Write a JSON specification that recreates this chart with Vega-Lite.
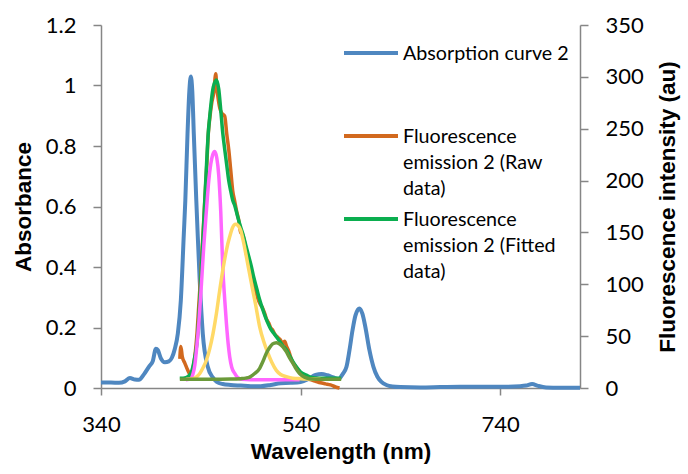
{
  "$schema": "https://vega.github.io/schema/vega-lite/v6.json",
  "width": 479,
  "height": 363,
  "autosize": {"type": "none"},
  "padding": {"left": 101, "top": 25, "right": 108, "bottom": 86},
  "background": "white",
  "config": {
    "view": {"stroke": null},
    "font": "Lato",
    "axis": {
      "domainColor": "#868686",
      "tickColor": "#868686",
      "domainWidth": 1.5,
      "tickWidth": 1.5,
      "grid": false,
      "labelFont": "Lato",
      "labelFontSize": 22,
      "labelColor": "black",
      "titleFont": "Liberation Sans",
      "titleFontSize": 22.5,
      "titleFontWeight": "bold",
      "titleColor": "black"
    }
  },
  "datasets": {
    "abs": [
      {"wavelength": 340, "absorbance": 0.018, "series": "Absorption curve 2"},
      {"wavelength": 350, "absorbance": 0.018, "series": "Absorption curve 2"},
      {"wavelength": 358, "absorbance": 0.017, "series": "Absorption curve 2"},
      {"wavelength": 364, "absorbance": 0.022, "series": "Absorption curve 2"},
      {"wavelength": 369, "absorbance": 0.033, "series": "Absorption curve 2"},
      {"wavelength": 374, "absorbance": 0.028, "series": "Absorption curve 2"},
      {"wavelength": 378, "absorbance": 0.027, "series": "Absorption curve 2"},
      {"wavelength": 383, "absorbance": 0.045, "series": "Absorption curve 2"},
      {"wavelength": 388, "absorbance": 0.07, "series": "Absorption curve 2"},
      {"wavelength": 392, "absorbance": 0.09, "series": "Absorption curve 2"},
      {"wavelength": 395, "absorbance": 0.13, "series": "Absorption curve 2"},
      {"wavelength": 397, "absorbance": 0.125, "series": "Absorption curve 2"},
      {"wavelength": 400, "absorbance": 0.098, "series": "Absorption curve 2"},
      {"wavelength": 404, "absorbance": 0.085, "series": "Absorption curve 2"},
      {"wavelength": 408, "absorbance": 0.088, "series": "Absorption curve 2"},
      {"wavelength": 411, "absorbance": 0.1, "series": "Absorption curve 2"},
      {"wavelength": 414, "absorbance": 0.13, "series": "Absorption curve 2"},
      {"wavelength": 417, "absorbance": 0.18, "series": "Absorption curve 2"},
      {"wavelength": 420, "absorbance": 0.29, "series": "Absorption curve 2"},
      {"wavelength": 423, "absorbance": 0.51, "series": "Absorption curve 2"},
      {"wavelength": 424.5, "absorbance": 0.62, "series": "Absorption curve 2"},
      {"wavelength": 426.7, "absorbance": 0.84, "series": "Absorption curve 2"},
      {"wavelength": 428.5, "absorbance": 0.98, "series": "Absorption curve 2"},
      {"wavelength": 430, "absorbance": 1.03, "series": "Absorption curve 2"},
      {"wavelength": 431.5, "absorbance": 0.98, "series": "Absorption curve 2"},
      {"wavelength": 433, "absorbance": 0.84, "series": "Absorption curve 2"},
      {"wavelength": 435.5, "absorbance": 0.62, "series": "Absorption curve 2"},
      {"wavelength": 437, "absorbance": 0.5, "series": "Absorption curve 2"},
      {"wavelength": 439, "absorbance": 0.35, "series": "Absorption curve 2"},
      {"wavelength": 442, "absorbance": 0.18, "series": "Absorption curve 2"},
      {"wavelength": 447, "absorbance": 0.07, "series": "Absorption curve 2"},
      {"wavelength": 452, "absorbance": 0.035, "series": "Absorption curve 2"},
      {"wavelength": 456, "absorbance": 0.02, "series": "Absorption curve 2"},
      {"wavelength": 462, "absorbance": 0.013, "series": "Absorption curve 2"},
      {"wavelength": 470, "absorbance": 0.01, "series": "Absorption curve 2"},
      {"wavelength": 480, "absorbance": 0.008, "series": "Absorption curve 2"},
      {"wavelength": 490, "absorbance": 0.006, "series": "Absorption curve 2"},
      {"wavelength": 500, "absorbance": 0.006, "series": "Absorption curve 2"},
      {"wavelength": 510, "absorbance": 0.01, "series": "Absorption curve 2"},
      {"wavelength": 520, "absorbance": 0.016, "series": "Absorption curve 2"},
      {"wavelength": 530, "absorbance": 0.017, "series": "Absorption curve 2"},
      {"wavelength": 540, "absorbance": 0.02, "series": "Absorption curve 2"},
      {"wavelength": 548, "absorbance": 0.03, "series": "Absorption curve 2"},
      {"wavelength": 555, "absorbance": 0.043, "series": "Absorption curve 2"},
      {"wavelength": 561, "absorbance": 0.046, "series": "Absorption curve 2"},
      {"wavelength": 567, "absorbance": 0.042, "series": "Absorption curve 2"},
      {"wavelength": 573, "absorbance": 0.035, "series": "Absorption curve 2"},
      {"wavelength": 578, "absorbance": 0.03, "series": "Absorption curve 2"},
      {"wavelength": 582, "absorbance": 0.045, "series": "Absorption curve 2"},
      {"wavelength": 586, "absorbance": 0.07, "series": "Absorption curve 2"},
      {"wavelength": 589, "absorbance": 0.125, "series": "Absorption curve 2"},
      {"wavelength": 592, "absorbance": 0.19, "series": "Absorption curve 2"},
      {"wavelength": 595, "absorbance": 0.24, "series": "Absorption curve 2"},
      {"wavelength": 599, "absorbance": 0.263, "series": "Absorption curve 2"},
      {"wavelength": 602, "absorbance": 0.245, "series": "Absorption curve 2"},
      {"wavelength": 605, "absorbance": 0.2, "series": "Absorption curve 2"},
      {"wavelength": 609, "absorbance": 0.125, "series": "Absorption curve 2"},
      {"wavelength": 613, "absorbance": 0.07, "series": "Absorption curve 2"},
      {"wavelength": 617, "absorbance": 0.037, "series": "Absorption curve 2"},
      {"wavelength": 621, "absorbance": 0.02, "series": "Absorption curve 2"},
      {"wavelength": 626, "absorbance": 0.01, "series": "Absorption curve 2"},
      {"wavelength": 632, "absorbance": 0.005, "series": "Absorption curve 2"},
      {"wavelength": 640, "absorbance": 0.003, "series": "Absorption curve 2"},
      {"wavelength": 660, "absorbance": 0.002, "series": "Absorption curve 2"},
      {"wavelength": 680, "absorbance": 0.003, "series": "Absorption curve 2"},
      {"wavelength": 700, "absorbance": 0.004, "series": "Absorption curve 2"},
      {"wavelength": 720, "absorbance": 0.004, "series": "Absorption curve 2"},
      {"wavelength": 740, "absorbance": 0.004, "series": "Absorption curve 2"},
      {"wavelength": 760, "absorbance": 0.006, "series": "Absorption curve 2"},
      {"wavelength": 766, "absorbance": 0.008, "series": "Absorption curve 2"},
      {"wavelength": 772, "absorbance": 0.013, "series": "Absorption curve 2"},
      {"wavelength": 778, "absorbance": 0.007, "series": "Absorption curve 2"},
      {"wavelength": 786, "absorbance": 0.002, "series": "Absorption curve 2"},
      {"wavelength": 800, "absorbance": 0.001, "series": "Absorption curve 2"},
      {"wavelength": 820, "absorbance": 0.001, "series": "Absorption curve 2"}
    ],
    "fl": [
      {"wavelength": 419, "intensity": 28, "series": "Fluorescence emission 2 (Raw data)"},
      {"wavelength": 420, "intensity": 40, "series": "Fluorescence emission 2 (Raw data)"},
      {"wavelength": 421.5, "intensity": 30, "series": "Fluorescence emission 2 (Raw data)"},
      {"wavelength": 424, "intensity": 24, "series": "Fluorescence emission 2 (Raw data)"},
      {"wavelength": 427, "intensity": 17, "series": "Fluorescence emission 2 (Raw data)"},
      {"wavelength": 430, "intensity": 12.5, "series": "Fluorescence emission 2 (Raw data)"},
      {"wavelength": 432, "intensity": 18, "series": "Fluorescence emission 2 (Raw data)"},
      {"wavelength": 434, "intensity": 30, "series": "Fluorescence emission 2 (Raw data)"},
      {"wavelength": 436, "intensity": 50, "series": "Fluorescence emission 2 (Raw data)"},
      {"wavelength": 438, "intensity": 80, "series": "Fluorescence emission 2 (Raw data)"},
      {"wavelength": 440, "intensity": 110, "series": "Fluorescence emission 2 (Raw data)"},
      {"wavelength": 442, "intensity": 145, "series": "Fluorescence emission 2 (Raw data)"},
      {"wavelength": 444, "intensity": 180, "series": "Fluorescence emission 2 (Raw data)"},
      {"wavelength": 446, "intensity": 215, "series": "Fluorescence emission 2 (Raw data)"},
      {"wavelength": 447.5, "intensity": 245, "series": "Fluorescence emission 2 (Raw data)"},
      {"wavelength": 449, "intensity": 260, "series": "Fluorescence emission 2 (Raw data)"},
      {"wavelength": 451, "intensity": 275, "series": "Fluorescence emission 2 (Raw data)"},
      {"wavelength": 453, "intensity": 285, "series": "Fluorescence emission 2 (Raw data)"},
      {"wavelength": 455, "intensity": 303, "series": "Fluorescence emission 2 (Raw data)"},
      {"wavelength": 456, "intensity": 290, "series": "Fluorescence emission 2 (Raw data)"},
      {"wavelength": 457, "intensity": 282, "series": "Fluorescence emission 2 (Raw data)"},
      {"wavelength": 459, "intensity": 270, "series": "Fluorescence emission 2 (Raw data)"},
      {"wavelength": 461, "intensity": 265, "series": "Fluorescence emission 2 (Raw data)"},
      {"wavelength": 464, "intensity": 262, "series": "Fluorescence emission 2 (Raw data)"},
      {"wavelength": 466, "intensity": 245, "series": "Fluorescence emission 2 (Raw data)"},
      {"wavelength": 468, "intensity": 230, "series": "Fluorescence emission 2 (Raw data)"},
      {"wavelength": 470, "intensity": 210, "series": "Fluorescence emission 2 (Raw data)"},
      {"wavelength": 472, "intensity": 190, "series": "Fluorescence emission 2 (Raw data)"},
      {"wavelength": 474, "intensity": 180, "series": "Fluorescence emission 2 (Raw data)"},
      {"wavelength": 476, "intensity": 170, "series": "Fluorescence emission 2 (Raw data)"},
      {"wavelength": 478, "intensity": 162, "series": "Fluorescence emission 2 (Raw data)"},
      {"wavelength": 480, "intensity": 150, "series": "Fluorescence emission 2 (Raw data)"},
      {"wavelength": 482, "intensity": 148, "series": "Fluorescence emission 2 (Raw data)"},
      {"wavelength": 484, "intensity": 140, "series": "Fluorescence emission 2 (Raw data)"},
      {"wavelength": 486, "intensity": 128, "series": "Fluorescence emission 2 (Raw data)"},
      {"wavelength": 488, "intensity": 122, "series": "Fluorescence emission 2 (Raw data)"},
      {"wavelength": 490, "intensity": 115, "series": "Fluorescence emission 2 (Raw data)"},
      {"wavelength": 492, "intensity": 105, "series": "Fluorescence emission 2 (Raw data)"},
      {"wavelength": 494, "intensity": 98, "series": "Fluorescence emission 2 (Raw data)"},
      {"wavelength": 496, "intensity": 90, "series": "Fluorescence emission 2 (Raw data)"},
      {"wavelength": 498, "intensity": 84, "series": "Fluorescence emission 2 (Raw data)"},
      {"wavelength": 500, "intensity": 80, "series": "Fluorescence emission 2 (Raw data)"},
      {"wavelength": 502, "intensity": 77, "series": "Fluorescence emission 2 (Raw data)"},
      {"wavelength": 504, "intensity": 72, "series": "Fluorescence emission 2 (Raw data)"},
      {"wavelength": 506, "intensity": 66, "series": "Fluorescence emission 2 (Raw data)"},
      {"wavelength": 508, "intensity": 63, "series": "Fluorescence emission 2 (Raw data)"},
      {"wavelength": 510, "intensity": 58, "series": "Fluorescence emission 2 (Raw data)"},
      {"wavelength": 512, "intensity": 56, "series": "Fluorescence emission 2 (Raw data)"},
      {"wavelength": 514, "intensity": 52, "series": "Fluorescence emission 2 (Raw data)"},
      {"wavelength": 516, "intensity": 50, "series": "Fluorescence emission 2 (Raw data)"},
      {"wavelength": 518, "intensity": 48, "series": "Fluorescence emission 2 (Raw data)"},
      {"wavelength": 520, "intensity": 46, "series": "Fluorescence emission 2 (Raw data)"},
      {"wavelength": 522, "intensity": 43, "series": "Fluorescence emission 2 (Raw data)"},
      {"wavelength": 524, "intensity": 45, "series": "Fluorescence emission 2 (Raw data)"},
      {"wavelength": 526, "intensity": 40, "series": "Fluorescence emission 2 (Raw data)"},
      {"wavelength": 528, "intensity": 36, "series": "Fluorescence emission 2 (Raw data)"},
      {"wavelength": 530, "intensity": 30, "series": "Fluorescence emission 2 (Raw data)"},
      {"wavelength": 532, "intensity": 25, "series": "Fluorescence emission 2 (Raw data)"},
      {"wavelength": 535, "intensity": 21, "series": "Fluorescence emission 2 (Raw data)"},
      {"wavelength": 538, "intensity": 17, "series": "Fluorescence emission 2 (Raw data)"},
      {"wavelength": 541, "intensity": 13, "series": "Fluorescence emission 2 (Raw data)"},
      {"wavelength": 545, "intensity": 10, "series": "Fluorescence emission 2 (Raw data)"},
      {"wavelength": 550, "intensity": 8, "series": "Fluorescence emission 2 (Raw data)"},
      {"wavelength": 555, "intensity": 6.5, "series": "Fluorescence emission 2 (Raw data)"},
      {"wavelength": 560, "intensity": 5, "series": "Fluorescence emission 2 (Raw data)"},
      {"wavelength": 565, "intensity": 4, "series": "Fluorescence emission 2 (Raw data)"},
      {"wavelength": 570, "intensity": 3, "series": "Fluorescence emission 2 (Raw data)"},
      {"wavelength": 575, "intensity": 1, "series": "Fluorescence emission 2 (Raw data)"},
      {"wavelength": 579, "intensity": 0, "series": "Fluorescence emission 2 (Raw data)"},

      {"wavelength": 419, "intensity": 9.3, "series": "Fluorescence emission 2 (Fitted data)"},
      {"wavelength": 425, "intensity": 10, "series": "Fluorescence emission 2 (Fitted data)"},
      {"wavelength": 430, "intensity": 14, "series": "Fluorescence emission 2 (Fitted data)"},
      {"wavelength": 432, "intensity": 20, "series": "Fluorescence emission 2 (Fitted data)"},
      {"wavelength": 434, "intensity": 30, "series": "Fluorescence emission 2 (Fitted data)"},
      {"wavelength": 436, "intensity": 42, "series": "Fluorescence emission 2 (Fitted data)"},
      {"wavelength": 437, "intensity": 53, "series": "Fluorescence emission 2 (Fitted data)"},
      {"wavelength": 439, "intensity": 85, "series": "Fluorescence emission 2 (Fitted data)"},
      {"wavelength": 440.7, "intensity": 117, "series": "Fluorescence emission 2 (Fitted data)"},
      {"wavelength": 442.5, "intensity": 150, "series": "Fluorescence emission 2 (Fitted data)"},
      {"wavelength": 444, "intensity": 181, "series": "Fluorescence emission 2 (Fitted data)"},
      {"wavelength": 446, "intensity": 220, "series": "Fluorescence emission 2 (Fitted data)"},
      {"wavelength": 447.5, "intensity": 246, "series": "Fluorescence emission 2 (Fitted data)"},
      {"wavelength": 449, "intensity": 262, "series": "Fluorescence emission 2 (Fitted data)"},
      {"wavelength": 450.7, "intensity": 278, "series": "Fluorescence emission 2 (Fitted data)"},
      {"wavelength": 452.5, "intensity": 290, "series": "Fluorescence emission 2 (Fitted data)"},
      {"wavelength": 455.7, "intensity": 297, "series": "Fluorescence emission 2 (Fitted data)"},
      {"wavelength": 458, "intensity": 288, "series": "Fluorescence emission 2 (Fitted data)"},
      {"wavelength": 460, "intensity": 268, "series": "Fluorescence emission 2 (Fitted data)"},
      {"wavelength": 462, "intensity": 246, "series": "Fluorescence emission 2 (Fitted data)"},
      {"wavelength": 464, "intensity": 230, "series": "Fluorescence emission 2 (Fitted data)"},
      {"wavelength": 466, "intensity": 215, "series": "Fluorescence emission 2 (Fitted data)"},
      {"wavelength": 468, "intensity": 200, "series": "Fluorescence emission 2 (Fitted data)"},
      {"wavelength": 470, "intensity": 190, "series": "Fluorescence emission 2 (Fitted data)"},
      {"wavelength": 472, "intensity": 181, "series": "Fluorescence emission 2 (Fitted data)"},
      {"wavelength": 474, "intensity": 176, "series": "Fluorescence emission 2 (Fitted data)"},
      {"wavelength": 477, "intensity": 165, "series": "Fluorescence emission 2 (Fitted data)"},
      {"wavelength": 480, "intensity": 155, "series": "Fluorescence emission 2 (Fitted data)"},
      {"wavelength": 482, "intensity": 149, "series": "Fluorescence emission 2 (Fitted data)"},
      {"wavelength": 485, "intensity": 138, "series": "Fluorescence emission 2 (Fitted data)"},
      {"wavelength": 488, "intensity": 127, "series": "Fluorescence emission 2 (Fitted data)"},
      {"wavelength": 490.7, "intensity": 117, "series": "Fluorescence emission 2 (Fitted data)"},
      {"wavelength": 493, "intensity": 107, "series": "Fluorescence emission 2 (Fitted data)"},
      {"wavelength": 496, "intensity": 96, "series": "Fluorescence emission 2 (Fitted data)"},
      {"wavelength": 499, "intensity": 85, "series": "Fluorescence emission 2 (Fitted data)"},
      {"wavelength": 502, "intensity": 76, "series": "Fluorescence emission 2 (Fitted data)"},
      {"wavelength": 504.5, "intensity": 69, "series": "Fluorescence emission 2 (Fitted data)"},
      {"wavelength": 507, "intensity": 63, "series": "Fluorescence emission 2 (Fitted data)"},
      {"wavelength": 510, "intensity": 57, "series": "Fluorescence emission 2 (Fitted data)"},
      {"wavelength": 513, "intensity": 53, "series": "Fluorescence emission 2 (Fitted data)"},
      {"wavelength": 515.7, "intensity": 49.5, "series": "Fluorescence emission 2 (Fitted data)"},
      {"wavelength": 519, "intensity": 45, "series": "Fluorescence emission 2 (Fitted data)"},
      {"wavelength": 522, "intensity": 41, "series": "Fluorescence emission 2 (Fitted data)"},
      {"wavelength": 525.7, "intensity": 37, "series": "Fluorescence emission 2 (Fitted data)"},
      {"wavelength": 529, "intensity": 31, "series": "Fluorescence emission 2 (Fitted data)"},
      {"wavelength": 532, "intensity": 26, "series": "Fluorescence emission 2 (Fitted data)"},
      {"wavelength": 535.7, "intensity": 20.5, "series": "Fluorescence emission 2 (Fitted data)"},
      {"wavelength": 540, "intensity": 15.5, "series": "Fluorescence emission 2 (Fitted data)"},
      {"wavelength": 545.7, "intensity": 12.5, "series": "Fluorescence emission 2 (Fitted data)"},
      {"wavelength": 550, "intensity": 10.5, "series": "Fluorescence emission 2 (Fitted data)"},
      {"wavelength": 559, "intensity": 9.5, "series": "Fluorescence emission 2 (Fitted data)"},
      {"wavelength": 570, "intensity": 9.3, "series": "Fluorescence emission 2 (Fitted data)"},
      {"wavelength": 580.7, "intensity": 9.3, "series": "Fluorescence emission 2 (Fitted data)"},

      {"wavelength": 425, "intensity": 8, "series": "Peak 1"},
      {"wavelength": 430, "intensity": 9, "series": "Peak 1"},
      {"wavelength": 432, "intensity": 13, "series": "Peak 1"},
      {"wavelength": 434, "intensity": 22, "series": "Peak 1"},
      {"wavelength": 435.7, "intensity": 37, "series": "Peak 1"},
      {"wavelength": 438, "intensity": 62, "series": "Peak 1"},
      {"wavelength": 440.7, "intensity": 101, "series": "Peak 1"},
      {"wavelength": 443, "intensity": 137, "series": "Peak 1"},
      {"wavelength": 445.7, "intensity": 172, "series": "Peak 1"},
      {"wavelength": 448, "intensity": 200, "series": "Peak 1"},
      {"wavelength": 450, "intensity": 216, "series": "Peak 1"},
      {"wavelength": 452, "intensity": 225, "series": "Peak 1"},
      {"wavelength": 454, "intensity": 228, "series": "Peak 1"},
      {"wavelength": 456, "intensity": 222, "series": "Peak 1"},
      {"wavelength": 458, "intensity": 205, "series": "Peak 1"},
      {"wavelength": 460, "intensity": 170, "series": "Peak 1"},
      {"wavelength": 462, "intensity": 117, "series": "Peak 1"},
      {"wavelength": 464, "intensity": 85, "series": "Peak 1"},
      {"wavelength": 465.7, "intensity": 62, "series": "Peak 1"},
      {"wavelength": 467.5, "intensity": 42, "series": "Peak 1"},
      {"wavelength": 469, "intensity": 30, "series": "Peak 1"},
      {"wavelength": 471, "intensity": 20, "series": "Peak 1"},
      {"wavelength": 474, "intensity": 14, "series": "Peak 1"},
      {"wavelength": 477, "intensity": 10, "series": "Peak 1"},
      {"wavelength": 481, "intensity": 8.4, "series": "Peak 1"},
      {"wavelength": 490, "intensity": 8, "series": "Peak 1"},
      {"wavelength": 510, "intensity": 8, "series": "Peak 1"},
      {"wavelength": 539, "intensity": 8, "series": "Peak 1"},

      {"wavelength": 425, "intensity": 8.5, "series": "Peak 2"},
      {"wavelength": 432, "intensity": 9, "series": "Peak 2"},
      {"wavelength": 436, "intensity": 11, "series": "Peak 2"},
      {"wavelength": 439, "intensity": 14, "series": "Peak 2"},
      {"wavelength": 442, "intensity": 19, "series": "Peak 2"},
      {"wavelength": 445.7, "intensity": 27, "series": "Peak 2"},
      {"wavelength": 449, "intensity": 38, "series": "Peak 2"},
      {"wavelength": 452.3, "intensity": 52.7, "series": "Peak 2"},
      {"wavelength": 455.7, "intensity": 72, "series": "Peak 2"},
      {"wavelength": 459, "intensity": 94.5, "series": "Peak 2"},
      {"wavelength": 462.3, "intensity": 115, "series": "Peak 2"},
      {"wavelength": 465.7, "intensity": 133, "series": "Peak 2"},
      {"wavelength": 469, "intensity": 146, "series": "Peak 2"},
      {"wavelength": 472, "intensity": 155, "series": "Peak 2"},
      {"wavelength": 474.7, "intensity": 158, "series": "Peak 2"},
      {"wavelength": 477, "intensity": 157, "series": "Peak 2"},
      {"wavelength": 480, "intensity": 152, "series": "Peak 2"},
      {"wavelength": 482.3, "intensity": 143, "series": "Peak 2"},
      {"wavelength": 486, "intensity": 125, "series": "Peak 2"},
      {"wavelength": 490.7, "intensity": 101, "series": "Peak 2"},
      {"wavelength": 495, "intensity": 80, "series": "Peak 2"},
      {"wavelength": 499, "intensity": 59, "series": "Peak 2"},
      {"wavelength": 503, "intensity": 45, "series": "Peak 2"},
      {"wavelength": 507.3, "intensity": 33.5, "series": "Peak 2"},
      {"wavelength": 511, "intensity": 25, "series": "Peak 2"},
      {"wavelength": 515.7, "intensity": 17, "series": "Peak 2"},
      {"wavelength": 520, "intensity": 13, "series": "Peak 2"},
      {"wavelength": 525.7, "intensity": 11, "series": "Peak 2"},
      {"wavelength": 532, "intensity": 9.5, "series": "Peak 2"},
      {"wavelength": 540, "intensity": 9, "series": "Peak 2"},
      {"wavelength": 550, "intensity": 8.7, "series": "Peak 2"},
      {"wavelength": 560, "intensity": 8.5, "series": "Peak 2"},

      {"wavelength": 419, "intensity": 8.4, "series": "Peak 3"},
      {"wavelength": 450, "intensity": 8.4, "series": "Peak 3"},
      {"wavelength": 470, "intensity": 8.6, "series": "Peak 3"},
      {"wavelength": 480, "intensity": 9, "series": "Peak 3"},
      {"wavelength": 485, "intensity": 9.5, "series": "Peak 3"},
      {"wavelength": 489, "intensity": 10.5, "series": "Peak 3"},
      {"wavelength": 494, "intensity": 14, "series": "Peak 3"},
      {"wavelength": 499, "intensity": 19, "series": "Peak 3"},
      {"wavelength": 502, "intensity": 25, "series": "Peak 3"},
      {"wavelength": 505.7, "intensity": 33.5, "series": "Peak 3"},
      {"wavelength": 509, "intensity": 39, "series": "Peak 3"},
      {"wavelength": 512, "intensity": 42.5, "series": "Peak 3"},
      {"wavelength": 515.7, "intensity": 43.7, "series": "Peak 3"},
      {"wavelength": 519, "intensity": 42.5, "series": "Peak 3"},
      {"wavelength": 522.5, "intensity": 39.5, "series": "Peak 3"},
      {"wavelength": 525.7, "intensity": 35, "series": "Peak 3"},
      {"wavelength": 529, "intensity": 29, "series": "Peak 3"},
      {"wavelength": 532.3, "intensity": 24, "series": "Peak 3"},
      {"wavelength": 535.5, "intensity": 18.5, "series": "Peak 3"},
      {"wavelength": 539, "intensity": 14, "series": "Peak 3"},
      {"wavelength": 544, "intensity": 10.5, "series": "Peak 3"},
      {"wavelength": 549, "intensity": 9, "series": "Peak 3"},
      {"wavelength": 555, "intensity": 8.5, "series": "Peak 3"},
      {"wavelength": 565, "intensity": 8.4, "series": "Peak 3"},
      {"wavelength": 580.7, "intensity": 8.4, "series": "Peak 3"}
    ]
  },
  "encoding": {
    "x": {
      "field": "wavelength",
      "type": "quantitative",
      "scale": {"domain": [340, 820], "nice": false, "zero": false},
      "axis": {
        "title": "Wavelength (nm)",
        "values": [340, 540, 740],
        "tickSize": 7,
        "labelPadding": 19,
        "titlePadding": 5,
        "labelFlush": false,
        "labelOverlap": false
      }
    },
    "color": {
      "field": "series",
      "type": "nominal",
      "scale": {
        "domain": ["Absorption curve 2", "Fluorescence emission 2 (Raw data)", "Fluorescence emission 2 (Fitted data)", "Peak 1", "Peak 2", "Peak 3"],
        "range": ["#4F87C0", "#D2691E", "#0BAE4F", "#FF66FF", "#FFD966", "#6B9A3A"]
      },
      "legend": {
        "orient": "none",
        "legendX": 241,
        "legendY": 16,
        "title": null,
        "padding": 0,
        "values": ["Absorption curve 2", "Fluorescence emission 2 (Raw data)", "Fluorescence emission 2 (Fitted data)"],
        "symbolType": "stroke",
        "symbolSize": 2916,
        "symbolStrokeWidth": 4,
        "labelFont": "Lato",
        "labelFontSize": 19.7,
        "labelColor": "black",
        "labelOffset": 3,
        "labelLimit": 400,
        "labelBaseline": "top",
        "gridAlign": "all",
        "rowPadding": 8,
        "labelExpr": "datum.value == 'Fluorescence emission 2 (Raw data)' ? ['Fluorescence', 'emission 2 (Raw', 'data)'] : datum.value == 'Fluorescence emission 2 (Fitted data)' ? ['Fluorescence', 'emission 2 (Fitted', 'data)'] : datum.label",
        "encode": {
          "symbols": {"update": {"y": {"value": 12}}},
          "labels": {"update": {"y": {"value": 12}, "lineHeight": {"value": 26}, "dy": {"value": -9}}}
        }
      }
    }
  },
  "layer": [
    {
      "data": {"name": "abs"},
      "mark": {"type": "line", "strokeWidth": 4, "interpolate": "monotone"},
      "encoding": {
        "y": {
          "field": "absorbance",
          "type": "quantitative",
          "scale": {"domain": [0, 1.2], "nice": false},
          "axis": {
            "orient": "left",
            "title": "Absorbance",
            "values": [0, 0.2, 0.4, 0.6, 0.8, 1, 1.2],
            "format": "~g",
            "tickSize": 8,
            "labelPadding": 17,
            "titlePadding": 10
          }
        }
      }
    },
    {
      "data": {"name": "fl"},
      "mark": {"type": "line", "strokeWidth": 3.5, "interpolate": "monotone"},
      "encoding": {
        "y": {
          "field": "intensity",
          "type": "quantitative",
          "scale": {"domain": [0, 350], "nice": false},
          "axis": {
            "orient": "right",
            "title": "Fluorescence intensity (au)",
            "titleAngle": 270,
            "titleBaseline": "top",
            "values": [0, 50, 100, 150, 200, 250, 300, 350],
            "tickSize": 8,
            "labelPadding": 17,
            "titlePadding": 13
          }
        }
      }
    }
  ],
  "resolve": {"scale": {"y": "independent"}}
}
